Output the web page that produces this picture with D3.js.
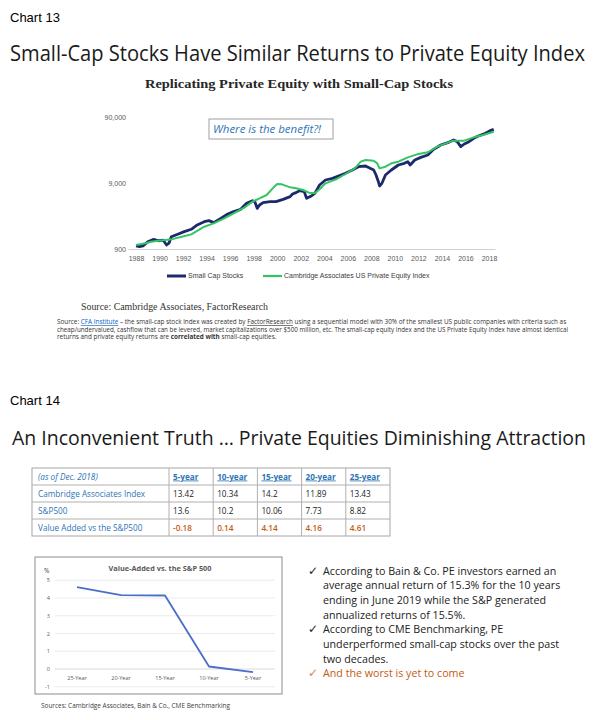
<!DOCTYPE html>
<html>
<head>
<meta charset="utf-8">
<script src="https://cdn.jsdelivr.net/npm/d3@7"></script>
<style>
  html, body { margin: 0; padding: 0; background: #fff; }
  svg { display: block; }
</style>
</head>
<body>
<div id="page"></div>
<script>
// ---- Chart 13: index levels (log scale) ----
var smallCapYears  = [1988.0, 1988.3, 1988.6, 1989.0, 1989.5, 1989.9, 1990.3, 1990.6, 1990.8, 1991.0,
                      1991.6, 1992.1, 1992.7, 1993.2, 1993.8, 1994.2, 1994.6, 1995.2, 1995.8, 1996.3,
                      1996.9, 1997.4, 1997.9, 1998.1, 1998.3, 1998.5, 1998.8, 1999.4, 1999.9, 2000.5,
                      2001.1, 2001.3, 2001.6, 2001.9, 2002.3, 2002.5, 2002.9, 2003.2, 2003.6, 2004.1,
                      2004.7, 2005.2, 2005.8, 2006.4, 2006.9, 2007.5, 2007.9, 2008.2, 2008.4, 2008.6,
                      2008.7, 2008.9, 2009.2, 2009.7, 2010.3, 2010.8, 2011.1, 2011.3, 2011.7, 2012.2,
                      2012.8, 2013.3, 2013.9, 2014.5, 2015.0, 2015.3, 2015.6, 2015.9, 2016.3, 2016.7,
                      2017.1, 2017.7, 2018.1, 2018.4];
var smallCapValues = [1000, 980, 1000, 1160, 1260, 1200, 1230, 1035, 1100, 1380,
                      1520, 1650, 1790, 2080, 2330, 2420, 2260, 2620, 3050, 3310,
                      3590, 4430, 4860, 4690, 3720, 4180, 4540, 4690, 4690, 5090,
                      5590, 6130, 6430, 6890, 6650, 5270, 5720, 6280, 8400, 9990,
                      10590, 11490, 12600, 14170, 15900, 16290, 15010, 14170, 11890, 9430,
                      8110, 8900, 11890, 14170, 16870, 17870, 18940, 16870, 20080, 22020,
                      23900, 29130, 33890, 36770, 40340, 38070, 31960, 35090, 38070, 42740,
                      46380, 50920, 55870, 58520];

var peYears  = [1988.0, 1988.8, 1989.3, 1989.9, 1990.5, 1991.0, 1991.9, 1992.7, 1993.2, 1993.8,
                1994.6, 1995.5, 1996.3, 1997.2, 1997.9, 1998.5, 1999.1, 1999.7, 2000.0, 2000.4,
                2001.1, 2001.6, 2002.2, 2002.7, 2003.2, 2003.6, 2004.1, 2005.0, 2005.8, 2006.6,
                2007.1, 2007.5, 2008.2, 2008.5, 2008.7, 2009.2, 2009.7, 2010.3, 2011.1, 2011.9,
                2012.8, 2013.6, 2014.5, 2015.0, 2015.9, 2016.7, 2017.5, 2018.4];
var peValues = [1035, 1100, 1160, 1200, 1230, 1260, 1380, 1500, 1690, 1960,
                2200, 2620, 3120, 3810, 4690, 5270, 5920, 7740, 8700, 8590,
                7740, 7470, 7050, 6430, 6280, 7220, 8900, 10220, 12320, 15010,
                18940, 20080, 19610, 17870, 15010, 15910, 17870, 18940, 22020, 24460,
                26230, 31960, 36770, 39400, 39400, 44270, 48040, 53940];

var yTickValues = [900, 9000, 90000];
var xTickYears = [1988, 1990, 1992, 1994, 1996, 1998, 2000, 2002, 2004, 2006, 2008, 2010, 2012, 2014, 2016, 2018];
var seriesNames = ["Small Cap Stocks", "Cambridge Associates US Private Equity Index"];

// ---- Chart 14: returns table and value-added line ----
var periods = ["5-year", "10-year", "15-year", "20-year", "25-year"];
var rowNames = ["Cambridge Associates Index", "S&P500", "Value Added vs the S&P500"];
var cambridgeIdx = [13.42, 10.34, 14.2, 11.89, 13.43];
var sp500 = [13.6, 10.2, 10.06, 7.73, 8.82];
var valueAdded = [-0.18, 0.14, 4.14, 4.16, 4.61];
var lineCats = ["25-Year", "20-Year", "15-Year", "10-Year", "5-Year"];
var lineValues = [4.61, 4.16, 4.14, 0.14, -0.18];
var pctTicks = [-1, 0, 1, 2, 3, 4, 5];

var bullets = [
  ["According to Bain & Co. PE investors earned an",
   "average annual return of 15.3% for the 10 years",
   "ending in June 2019 while the S&P generated",
   "annualized returns of 15.5%."],
  ["According to CME Benchmarking, PE",
   "underperformed small-cap stocks over the past",
   "two decades."],
  ["And the worst is yet to come"]
];

var navy = "#1c2a6b", green = "#34c463", blue = "#2e75b6", orange = "#c55a11";
var sans = "'Liberation Sans', Arial, sans-serif";
var calib = "'Open Sans', 'Noto Sans', sans-serif";
var serif = "'Liberation Serif', 'DejaVu Serif', serif";

var svg = d3.select("#page").append("svg")
  .attr("width", 613).attr("height", 720)
  .style("font-family", calib);
svg.append("rect").attr("width", 613).attr("height", 720).attr("fill", "#fff");

function squeeze(sel, w) {
  return sel.attr("textLength", w).attr("lengthAdjust", "spacingAndGlyphs");
}

// big slide title: shrink the font until its own width is close to the target, then fit
function slideTitle(x0, y0, w, txt) {
  var t = svg.append("text").attr("x", x0).attr("y", y0)
    .style("font-size", "21px").attr("fill", "#1a1a1a").text(txt);
  var len = t.node().getComputedTextLength();
  if (len > w * 1.04) t.style("font-size", (21 * w * 1.04 / len) + "px");
  return squeeze(t, w);
}

// headings
svg.append("text").attr("x", 10).attr("y", 22)
  .style("font-family", sans).style("font-size", "13px").text("Chart 13");
slideTitle(10, 61, 575, "Small-Cap Stocks Have Similar Returns to Private Equity Index");

squeeze(svg.append("text").attr("x", 299).attr("y", 87.5).attr("text-anchor", "middle")
  .style("font-family", serif).style("font-weight", "bold").style("font-size", "13.5px")
  .attr("fill", "#262626").text("Replicating Private Equity with Small-Cap Stocks"), 308);

// chart 13 scales and axes
var x = d3.scaleLinear().domain([1987.32, 2018.51]).range([128, 495]);
var y = d3.scaleLog().domain([900, 90000]).range([249, 117]);

var gx = svg.append("g").attr("transform", "translate(0,249)")
  .call(d3.axisBottom(x).tickValues(xTickYears).tickFormat(d3.format("d")).tickSize(0).tickPadding(7));
gx.select(".domain").attr("stroke", "#d0d0d0");
gx.selectAll("text").style("font-family", sans).style("font-size", "7px").attr("fill", "#595959");

var gy = svg.append("g").attr("transform", "translate(128,0)")
  .call(d3.axisLeft(y).tickValues(yTickValues).tickFormat(d3.format(",")).tickSize(0).tickPadding(2));
gy.select(".domain").remove();
gy.selectAll("text").style("font-family", sans).style("font-size", "7px").attr("fill", "#595959");

var line = d3.line().x(function(d) { return x(d[0]); }).y(function(d) { return y(d[1]); });

svg.append("path").datum(d3.zip(smallCapYears, smallCapValues))
  .attr("fill", "none").attr("stroke", navy).attr("stroke-width", 2.8)
  .attr("stroke-linejoin", "round").attr("d", line);
svg.append("path").datum(d3.zip(peYears, peValues))
  .attr("fill", "none").attr("stroke", green).attr("stroke-width", 2)
  .attr("stroke-linejoin", "round").attr("d", line);

// annotation box
svg.append("rect").attr("x", 209).attr("y", 119).attr("width", 124).attr("height", 20)
  .attr("fill", "#fff").attr("stroke", "#a0a0a0");
squeeze(svg.append("text").attr("x", 213).attr("y", 133)
  .style("font-style", "italic").style("font-size", "11px").attr("fill", blue)
  .text("Where is the benefit?!"), 108);

// legend
var legend = svg.selectAll(".legend").data(seriesNames).enter().append("g")
  .attr("class", "legend")
  .attr("transform", function(d, i) { return "translate(" + (i ? 263 : 167) + ",276)"; });
legend.append("line").attr("x2", 19)
  .attr("stroke", function(d, i) { return i ? green : navy; })
  .attr("stroke-width", function(d, i) { return i ? 2.2 : 3; });
legend.append("text").attr("x", 21).attr("dy", "0.35em")
  .style("font-family", sans).style("font-size", "7px").attr("fill", "#404040")
  .text(function(d) { return d; });

// source notes
squeeze(svg.append("text").attr("x", 81).attr("y", 309.5)
  .style("font-family", serif).style("font-size", "10.5px").attr("fill", "#333")
  .text("Source: Cambridge Associates, FactorResearch"), 187);

var note1 = svg.append("text").attr("x", 57).attr("y", 324).attr("fill", "#333").style("font-size", "6px");
note1.append("tspan").text("Source: ");
note1.append("tspan").attr("fill", "#0563c1").style("text-decoration", "underline").text("CFA Institute");
note1.append("tspan").text(" \u2013 the small-cap stock index was created by ");
note1.append("tspan").style("text-decoration", "underline").text("FactorResearch");
note1.append("tspan").text(" using a sequential model with 30% of the smallest US public companies with criteria such as");
var fs = 6 * 510 / note1.node().getComputedTextLength();
note1.style("font-size", fs + "px");

squeeze(svg.append("text").attr("x", 57).attr("y", 331.5).attr("fill", "#333").style("font-size", fs + "px")
  .text("cheap/undervalued, cashflow that can be levered, market capitalizations over $500 million, etc. The small-cap equity index and the US Private Equity Index have almost identical"), 511);

var note3 = svg.append("text").attr("x", 57).attr("y", 339).attr("fill", "#333").style("font-size", fs + "px");
note3.append("tspan").text("returns and private equity returns are ");
note3.append("tspan").style("font-weight", "bold").text("correlated with");
note3.append("tspan").text(" small-cap equities.");

// ---- Chart 14 ----
svg.append("text").attr("x", 10).attr("y", 405)
  .style("font-family", sans).style("font-size", "13px").text("Chart 14");
slideTitle(12, 445, 574, "An Inconvenient Truth \u2026 Private Equities Diminishing Attraction");

// table
var tX0 = 32, tX1 = 169, colW = 44.2, rowH = 17, tY0 = 468;
var colX = function(i) { return tX1 + i * colW; };
var tableW = tX1 - tX0 + colW * periods.length;
var tableH = rowH * (rowNames.length + 1);
var tbl = svg.append("g");
tbl.append("rect").attr("x", tX0).attr("y", tY0).attr("width", tableW).attr("height", tableH)
  .attr("fill", "none").attr("stroke", "#a6a6a6");
d3.range(1, rowNames.length + 1).forEach(function(r) {
  tbl.append("line").attr("x1", tX0).attr("x2", tX0 + tableW)
    .attr("y1", tY0 + r * rowH).attr("y2", tY0 + r * rowH).attr("stroke", "#b0b0b0");
});
periods.forEach(function(p, i) {
  tbl.append("line").attr("x1", colX(i)).attr("x2", colX(i))
    .attr("y1", tY0).attr("y2", tY0 + tableH).attr("stroke", "#b0b0b0");
});
tbl.append("text").attr("x", tX0 + 6).attr("y", tY0 + 11.5)
  .style("font-size", "8.2px").style("font-style", "italic").attr("fill", blue).text("(as of Dec. 2018)");
periods.forEach(function(p, i) {
  tbl.append("text").attr("x", colX(i) + 4).attr("y", tY0 + 11.5)
    .style("font-size", "8.2px").style("font-weight", "bold").style("text-decoration", "underline")
    .attr("fill", blue).text(p);
});
[cambridgeIdx, sp500, valueAdded].forEach(function(vals, r) {
  var yy = tY0 + (r + 1) * rowH + 11.5;
  tbl.append("text").attr("x", tX0 + 6).attr("y", yy)
    .style("font-size", "8.2px").attr("fill", blue).text(rowNames[r]);
  vals.forEach(function(v, i) {
    tbl.append("text").attr("x", colX(i) + 4).attr("y", yy)
      .style("font-size", "8.2px")
      .style("font-weight", r === 2 ? 600 : 400)
      .attr("fill", r === 2 ? orange : "#222").text(String(v));
  });
});

// value-added line chart
svg.append("rect").attr("x", 35).attr("y", 557).attr("width", 247).attr("height", 137)
  .attr("fill", "#fff").attr("stroke", "#8c8c8c");
squeeze(svg.append("text").attr("x", 160).attr("y", 570.5).attr("text-anchor", "middle")
  .style("font-size", "7.5px").style("font-weight", "bold").attr("fill", "#595959")
  .text("Value-Added vs. the S&P 500"), 103);
svg.append("text").attr("x", 44).attr("y", 573).style("font-size", "6.5px").attr("fill", "#404040").text("%");

var xb = d3.scalePoint().domain(lineCats).range([77, 253]);
var yb = d3.scaleLinear().domain([-1, 5]).range([686.75, 580.25]);

svg.selectAll(".grid").data(pctTicks).enter().append("line")
  .attr("class", "grid")
  .attr("x1", 55).attr("x2", 275)
  .attr("y1", function(d) { return yb(d); }).attr("y2", function(d) { return yb(d); })
  .attr("stroke", function(d) { return d === 0 ? "#d0d0d0" : "#e6e6e6"; })
  .attr("stroke-width", 0.8);
svg.selectAll(".pct").data(pctTicks).enter().append("text")
  .attr("class", "pct")
  .attr("x", 50).attr("y", function(d) { return yb(d) + 2; })
  .attr("text-anchor", "end").style("font-size", "5.5px").attr("fill", "#595959")
  .text(function(d) { return d; });
svg.selectAll(".cat").data(lineCats).enter().append("text")
  .attr("class", "cat")
  .attr("x", function(d) { return xb(d); }).attr("y", yb(0) + 11)
  .attr("text-anchor", "middle").style("font-size", "5.5px").attr("fill", "#595959")
  .text(function(d) { return d; });

var vline = d3.line().x(function(d) { return xb(d[0]); }).y(function(d) { return yb(d[1]); });
svg.append("path").datum(d3.zip(lineCats, lineValues))
  .attr("fill", "none").attr("stroke", "#4a6fc9").attr("stroke-width", 1.8)
  .attr("stroke-linejoin", "round").attr("d", vline);

squeeze(svg.append("text").attr("x", 41).attr("y", 707.5)
  .style("font-size", "7.5px").attr("fill", "#404040")
  .text("Sources: Cambridge Associates, Bain & Co., CME Benchmarking"), 189);

// bullet points
var by = 574.5, lh = 14.7;
bullets.forEach(function(lines, b) {
  var col = b === bullets.length - 1 ? "#d9843f" : "#222";
  svg.append("text").attr("x", 308).attr("y", by)
    .style("font-family", "'DejaVu Sans', sans-serif").style("font-size", "12px")
    .attr("fill", col).text("\u2713");
  lines.forEach(function(t) {
    svg.append("text").attr("x", 323).attr("y", by)
      .style("font-size", "10.7px").attr("fill", b === bullets.length - 1 ? orange : "#222").text(t);
    by += lh;
  });
});
</script>
</body>
</html>
